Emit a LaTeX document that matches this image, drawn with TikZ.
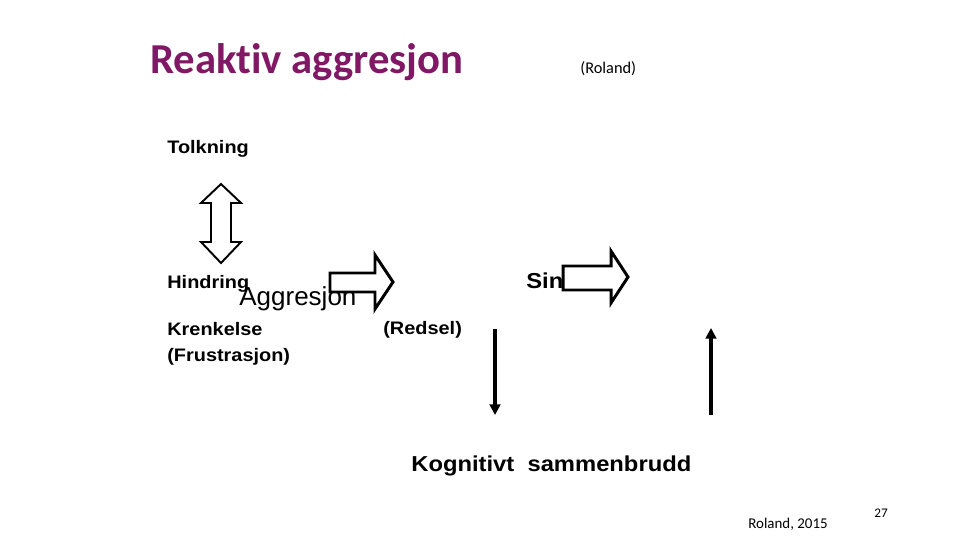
\documentclass[tikz,border=0pt]{standalone}
\usepackage{fontspec}
\setmainfont{Liberation Sans}
\newfontfamily\titlefont[Ligatures=NoCommon]{Carlito}
\newfontfamily\labelfont[FakeStretch=1.1]{Liberation Sans}
\usepackage{tikz}
\usetikzlibrary{
    arrows.meta,
    calc
}
\definecolor{titlepurple}{RGB}{129,24,102}

\begin{document}
\begin{tikzpicture}[x=0.02cm, y=-0.02cm,
    every node/.style={inner sep=0pt, anchor=base west},
    lbl/.style={font=\labelfont\bfseries\fontsize{10.3}{12}\selectfont},
    biglbl/.style={font=\labelfont\bfseries\fontsize{12.3}{14}\selectfont},
    blockarrow/.style={draw, line width=1.7pt, line join=miter},
    thinarrow/.style={line width=1.8pt, -{Triangle[length=6pt, width=6pt]}}
]

% Frame
\useasboundingbox (0,0) rectangle (960,540);

% Heading
\node (title) at (150,74) {\titlefont\bfseries\fontsize{24.3}{28}\selectfont\color{titlepurple}Reaktiv aggresjon};
\node (source) at (580,73.5) {\titlefont\fontsize{9.3}{11}\selectfont(Roland)};

% Left column
\node[lbl] (tolkning) at (167,153.5) {Tolkning};
\node[lbl] (hindring) at (167,289) {Hindring};
\node[lbl] (krenkelse) at (167,336) {Krenkelse};
\node[lbl] (frustrasjon) at (167,362) {(Frustrasjon)};

% Double arrow between Tolkning and Hindring
\draw[line width=1.1pt, line join=miter]
    (221,184) -- (241,203) -- (231,203) -- (231,242) -- (241,242)
    -- (221,263) -- (201,242) -- (211,242) -- (211,203) -- (201,203) -- cycle;

% First block arrow
\draw[blockarrow] (330,273) -- (375,273) -- (375,255) -- (393,282)
    -- (375,309) -- (375,292) -- (330,292) -- cycle;
\node (aggresjon) at (239,306) {\fontsize{14.8}{17}\selectfont Aggresjon};

\node[lbl] (redsel) at (383,335) {(Redsel)};

% Second block arrow
\node[biglbl] (sin) at (526,288.5) {Sin};
\draw[blockarrow] (563,266) -- (611,266) -- (611,251) -- (628,277)
    -- (611,303) -- (611,290) -- (563,290) -- cycle;

% Down and up arrows
\coordinate (downtop) at (495,329);
\coordinate (downbot) at (495,415);
\coordinate (uptop) at (711,328);
\coordinate (upbot) at (711,415);
\draw[thinarrow] (downtop) -- (downbot);
\draw[thinarrow] (upbot) -- (uptop);

% Bottom text
\node[biglbl] (kognitivt) at (411,471) {Kognitivt\ \ sammenbrudd};

% Footer
\node (cite) at (748,528) {\titlefont\fontsize{8.5}{10}\selectfont Roland, 2015};
\node (page) at (874,517) {\titlefont\fontsize{7.5}{9}\selectfont 27};

\end{tikzpicture}
\end{document}
